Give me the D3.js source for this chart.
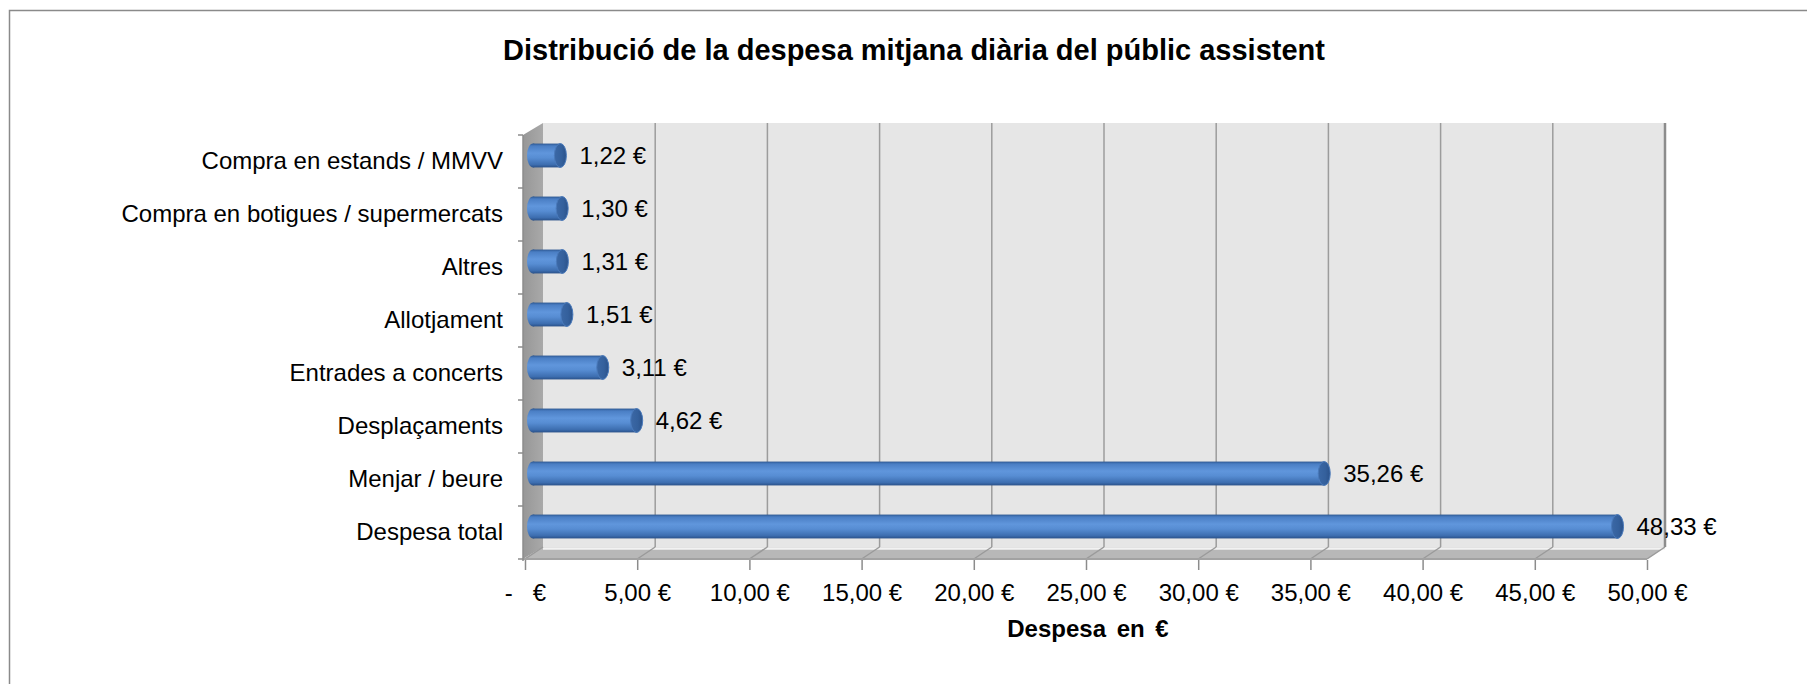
<!DOCTYPE html>
<html>
<head>
<meta charset="utf-8">
<script src="https://cdn.jsdelivr.net/npm/d3@7"></script>
<style>
  body { margin: 0; background: #fff; }
  text { font-family: "Liberation Sans", Arial, sans-serif; fill: #000; }
</style>
</head>
<body>
<div id="container"></div>
<script>
let w = 1807;
let h = 684;

// data
let categories = [
  "Compra en estands / MMVV",
  "Compra en botigues / supermercats",
  "Altres",
  "Allotjament",
  "Entrades a concerts",
  "Desplaçaments",
  "Menjar / beure",
  "Despesa total"
];
let values = [1.22, 1.30, 1.31, 1.51, 3.11, 4.62, 35.26, 48.33];
let tickValues = [0, 5, 10, 15, 20, 25, 30, 35, 40, 45, 50];
let titleText = "Distribució de la despesa mitjana diària del públic assistent";
let axisTitle = "Despesa en €";

let data = categories.map((c, i) => ({cat: c, value: values[i]}));

// 3d depth offset of the back wall
let DX = 18;
let DY = -12;

let viz = d3.select("#container").append("svg")
    .attr("width", w)
    .attr("height", h)
    .style("display", "block")
    .style("background-color", "#fff")
;

// outer frame (only left and top edges fall inside the picture)
viz.append("rect")
  .attr("x", 9.5).attr("y", 10.5)
  .attr("width", 1820).attr("height", 700)
  .attr("fill", "none")
  .attr("stroke", "#8a8a8a")
  .attr("stroke-width", 1.5);

let xScale = d3.scaleLinear().domain([0, 50]).range([525, 1647]);
let yScale = d3.scaleBand().domain(categories).range([135, 559]);

let euro = d3.formatLocale({decimal: ",", thousands: ".", grouping: [3], currency: ["", " €"]});
let fmt = euro.format(",.2f");

let defs = viz.append("defs");
let barGrad = defs.append("linearGradient")
  .attr("id", "barGrad").attr("x1", 0).attr("y1", 0).attr("x2", 0).attr("y2", 1);
[[0, "#2d5892"], [0.1, "#4a7ec4"], [0.4, "#6096dc"], [0.6, "#578dd3"], [0.88, "#3d6eb0"], [1, "#2a5189"]]
  .forEach(s => barGrad.append("stop").attr("offset", s[0]).attr("stop-color", s[1]));
let capGrad = defs.append("linearGradient")
  .attr("id", "capGrad").attr("x1", 0).attr("y1", 0).attr("x2", 1).attr("y2", 0);
[[0, "#3b68a6"], [0.6, "#34609c"], [1, "#2b528a"]]
  .forEach(s => capGrad.append("stop").attr("offset", s[0]).attr("stop-color", s[1]));
let sideGrad = defs.append("linearGradient")
  .attr("id", "sideGrad").attr("x1", 0).attr("y1", 0).attr("x2", 1).attr("y2", 0);
[[0, "#979797"], [1, "#a9a9a9"]]
  .forEach(s => sideGrad.append("stop").attr("offset", s[0]).attr("stop-color", s[1]));

let x0 = xScale(0), x1 = xScale(50);
let yTop = yScale.range()[0], yBot = yScale.range()[1];

// back wall
viz.append("rect")
  .attr("x", x0 + DX).attr("y", yTop + DY)
  .attr("width", x1 - x0).attr("height", yBot - yTop)
  .attr("fill", "#e6e6e6");

// side wall
viz.append("polygon")
  .attr("points", [[x0 - 2, yTop], [x0 + DX, yTop + DY], [x0 + DX, yBot + DY], [x0 - 2, yBot]].join(" "))
  .attr("fill", "url(#sideGrad)");

// floor
viz.append("polygon")
  .attr("points", [[x0 - 2, yBot], [x1, yBot], [x1 + DX, yBot + DY], [x0 + DX, yBot + DY]].join(" "))
  .attr("fill", "#b8b8b8");
viz.append("line")
  .attr("x1", x0 + DX).attr("x2", x1 + DX)
  .attr("y1", yBot + DY + 1.5).attr("y2", yBot + DY + 1.5)
  .attr("stroke", "#f2f2f2").attr("stroke-width", 2.5);

// gridlines on back wall and floor
let grid = viz.append("g").attr("class", "grid");
grid.selectAll(".vgrid").data(tickValues.filter(t => t > 0)).enter()
  .append("line")
    .attr("class", "vgrid")
    .attr("x1", d => xScale(d) + DX).attr("x2", d => xScale(d) + DX)
    .attr("y1", yTop + DY).attr("y2", yBot + DY)
    .attr("stroke", d => d == 50 ? "#8c8c8c" : "#9c9c9c")
    .attr("stroke-width", d => d == 50 ? 2.5 : 1.5);
grid.selectAll(".dgrid").data(tickValues).enter()
  .append("line")
    .attr("class", "dgrid")
    .attr("x1", d => xScale(d)).attr("x2", d => xScale(d) + DX)
    .attr("y1", yBot).attr("y2", yBot + DY)
    .attr("stroke", "#9a9a9a")
    .attr("stroke-width", 1.5);

// front floor edge
viz.append("line")
  .attr("x1", x0 - 2).attr("x2", x1)
  .attr("y1", yBot).attr("y2", yBot)
  .attr("stroke", "#a2a2a2").attr("stroke-width", 2);

// left axis line + ticks at the band edges
viz.append("line")
  .attr("x1", x0 - 2).attr("x2", x0 - 2)
  .attr("y1", yTop).attr("y2", yBot + 2)
  .attr("stroke", "#8c8c8c").attr("stroke-width", 1.5);
let bandEdges = categories.map(c => yScale(c)).concat([yBot]);
viz.selectAll(".ytick").data(bandEdges).enter()
  .append("line")
    .attr("class", "ytick")
    .attr("x1", x0 - 7).attr("x2", x0 - 2)
    .attr("y1", d => d).attr("y2", d => d)
    .attr("stroke", "#8c8c8c").attr("stroke-width", 1.5);

// x axis
let xAxis = d3.axisBottom(xScale)
  .tickValues(tickValues)
  .tickSize(10)
  .tickPadding(14)
  .tickFormat(d => d == 0 ? "-   €" : fmt(d) + " €");
let xAxisGroup = viz.append("g")
  .attr("class", "xaxisgroup")
  .attr("transform", "translate(0," + (yBot + 1) + ")")
  .call(xAxis);
xAxisGroup.select(".domain").remove();
xAxisGroup.selectAll("line").attr("stroke", "#8c8c8c").attr("stroke-width", 1.5);
xAxisGroup.selectAll("text")
  .style("font-size", "24px")
  .style("white-space", "pre")
  .attr("fill", "#000");

// y axis labels
let yAxis = d3.axisLeft(yScale).tickSize(0).tickPadding(20);
let yAxisGroup = viz.append("g")
  .attr("class", "yaxisgroup")
  .attr("transform", "translate(" + (x0 - 2) + ",0)")
  .call(yAxis);
yAxisGroup.select(".domain").remove();
yAxisGroup.selectAll("text")
  .style("font-size", "24px")
  .attr("fill", "#000");

// bars as cylinders
let barH = yScale.bandwidth() * 0.45;
let rx = 6;
let bars = viz.append("g").attr("class", "bars")
  .selectAll(".bar").data(data).enter()
  .append("g")
    .attr("class", "bar")
    .attr("transform", d => "translate(0," + (yScale(d.cat) + yScale.bandwidth() / 2 + DY / 2) + ")");

bars.append("ellipse")
  .attr("cx", x0 + DX / 2 - 1).attr("cy", 0)
  .attr("rx", rx).attr("ry", barH / 2)
  .attr("fill", "url(#barGrad)");
bars.append("rect")
  .attr("x", x0 + DX / 2 - 1)
  .attr("y", -barH / 2)
  .attr("width", d => xScale(d.value) - x0)
  .attr("height", barH)
  .attr("fill", "url(#barGrad)");
bars.append("ellipse")
  .attr("cx", d => xScale(d.value) + DX / 2 - 1).attr("cy", 0)
  .attr("rx", rx).attr("ry", barH / 2)
  .attr("fill", "url(#capGrad)")
  .attr("stroke", "#4a7abb").attr("stroke-width", 1);

bars.append("text")
  .attr("x", d => xScale(d.value) + DX / 2 + 18)
  .attr("y", 0)
  .attr("dy", "0.35em")
  .style("font-size", "24px")
  .text(d => fmt(d.value) + " €");

// titles
viz.append("text")
  .attr("x", 914).attr("y", 60)
  .attr("text-anchor", "middle")
  .style("font-size", "29px")
  .style("font-weight", "bold")
  .text(titleText);

viz.append("text")
  .attr("x", 1088).attr("y", 637)
  .attr("text-anchor", "middle")
  .style("font-size", "24px")
  .style("font-weight", "bold")
  .style("word-spacing", "4px")
  .text(axisTitle);
</script>
</body>
</html>
